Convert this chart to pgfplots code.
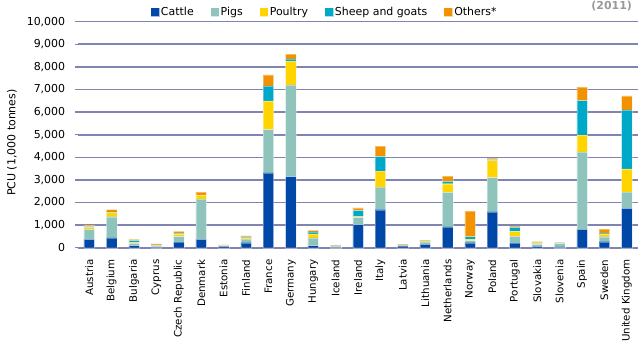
\documentclass[border=0pt]{standalone}
\usepackage{pgfplots}
\usepackage{pgfplotstable}
\usepackage{fontspec}
\setmainfont{DejaVu Sans}
\pgfplotsset{compat=1.18}
\definecolor{cattle}{HTML}{0048A8}
\definecolor{pigs}{HTML}{8FC4BC}
\definecolor{poultry}{HTML}{FFD400}
\definecolor{sheep}{HTML}{00A8C8}
\definecolor{others}{HTML}{F39200}
\definecolor{gridc}{HTML}{8084B0}
\pgfplotstableread{
x cattle pigs poultry sheep others
0 370 440 90 30 70
1 440 930 180 40 100
2 90 100 50 70 60
3 20 60 25 25 40
4 250 240 100 40 90
5 370 1780 160 20 130
6 60 30 10 5 15
7 220 160 60 20 60
8 3310 1920 1270 660 490
9 3150 4050 1050 100 210
10 90 340 180 90 70
11 30 10 10 30 20
12 1020 310 45 265 120
13 1680 1000 710 640 460
14 70 40 10 10 20
15 150 110 40 10 30
16 920 1530 380 100 240
17 220 90 70 110 1130
18 1580 1520 750 50 60
19 200 300 220 180 60
20 60 90 50 30 40
21 40 140 20 10 20
22 810 3430 740 1530 600
23 265 220 120 45 175
24 1740 720 1030 2610 620
}\datatable
\begin{document}
\fontsize{11}{13}\selectfont
\begin{tikzpicture}
\begin{axis}[
  scale only axis,
  width=560bp, height=226bp,
  ybar stacked,
  bar width=10.5bp,
  xmin=-0.5, xmax=24.5,
  ymin=0, ymax=10000,
  ytick={0,1000,...,10000},
  scaled y ticks=false,
  xtick=data,
  xticklabels={Austria,Belgium,Bulgaria,Cyprus,Czech Republic,Denmark,Estonia,Finland,France,Germany,Hungary,Iceland,Ireland,Italy,Latvia,Lithuania,Netherlands,Norway,Poland,Portugal,Slovakia,Slovenia,Spain,Sweden,United Kingdom},
  minor xtick={-0.5,0.5,...,24.5},
  xtick style={draw=none},
  minor tick length=4bp,
  major tick length=3bp,
  tick align=outside,
  tick pos=left,
  every tick/.style={gridc, line width=1.5bp},
  minor x tick style={gridc, line width=1.5bp},
  axis line style={draw=none},
  ymajorgrids,
  grid style={gridc, line width=1.6bp},
  yticklabel style={font=\fontsize{11}{13}\selectfont},
  xticklabel style={rotate=90, anchor=east, font=\fontsize{10.3}{12}\selectfont},
  xticklabel shift=5bp,
  yticklabel shift=6bp,
  /pgf/number format/assume math mode=true,
  /pgf/number format/.cd, 1000 sep={,}, /pgfplots/.cd,
  ylabel={PCU (1,000 tonnes)},
  every axis y label/.style={at={(rel axis cs:-0.118,0.465)}, rotate=90, anchor=center, font=\fontsize{11}{13}\selectfont},
  legend columns=5,
  legend style={draw=none, fill=none, at={(rel axis cs:0.13,1.043)}, anchor=west, font=\fontsize{11}{13}\selectfont, /tikz/every even column/.append style={column sep=15bp}, inner sep=0pt},
  legend cell align=left,
  clip=false,
]
\pgfplotsset{sq/.style={fill=#1, draw=white, draw opacity=0.35, line width=0.4bp,
   legend image code/.code={\fill[#1] (0bp,-3.8bp) rectangle (7.6bp,3.8bp);}}}
\addplot[sq=cattle] table[x=x,y=cattle]{\datatable};
\addplot[sq=pigs] table[x=x,y=pigs]{\datatable};
\addplot[sq=poultry] table[x=x,y=poultry]{\datatable};
\addplot[sq=sheep] table[x=x,y=sheep]{\datatable};
\addplot[sq=others] table[x=x,y=others]{\datatable};
\legend{Cattle,Pigs,Poultry,Sheep and goats,Others*}
\node[anchor=east, font=\bfseries\fontsize{11}{13}\selectfont, text=black!40] at (rel axis cs:0.996,1.069) {(2011)};
\end{axis}
\pgfresetboundingbox
\path[use as bounding box] ([shift={(-78bp,-99.3bp)}]current axis.south west) rectangle ++(641bp,347bp);
\end{tikzpicture}
\end{document}
